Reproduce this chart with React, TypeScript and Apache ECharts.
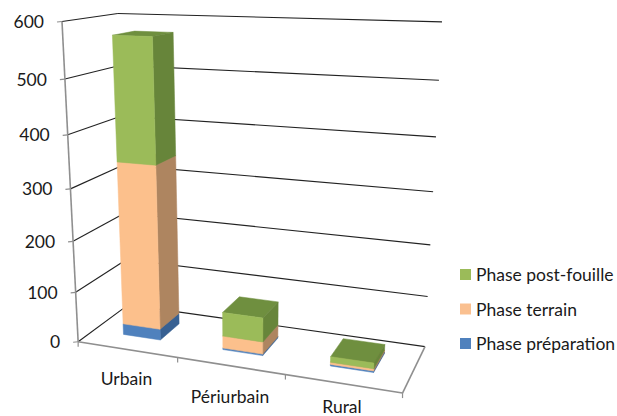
import React, { useEffect, useRef } from "react";
import * as echarts from "echarts";

const categories = ["Urbain", "Périurbain", "Rural"];
const yTicks = [0, 100, 200, 300, 400, 500, 600];
const phasePreparation = [22, 3, 3];
const phaseTerrain = [320, 24, 4];
const phasePostFouille = [231, 47, 11];

const FONT = "Lato, 'Noto Sans', sans-serif";
const TEXT = "#1a1a1a";
const FONT_SIZE = 17.5;

// Reference points of the box: [u, height (0..1), depth, screen x, screen y]
const anchors = [
  [0, 0, 0, 78, 342],
  [1 / 3, 0, 0, 177, 358],
  [2 / 3, 0, 0, 285, 377],
  [1, 0, 0, 402, 392],
  [0, 0, 1, 129, 305],
  [1, 0, 1, 425, 346],
  [0, 1, 0, 61.5, 21.7],
  [0, 1, 1, 116, 14],
  [1, 1, 1, 441, 22],
  [0, 5 / 6, 0, 66, 79],
  [0, 4 / 6, 0, 68.5, 134],
  [0, 3 / 6, 0, 71, 188],
  [0, 2 / 6, 0, 73, 241],
  [0, 1 / 6, 0, 75.5, 292],
  [1, 5 / 6, 1, 440, 81],
  [1, 4 / 6, 1, 437, 137],
  [1, 3 / 6, 1, 434, 191],
  [1, 2 / 6, 1, 430, 245],
  [1, 1 / 6, 1, 427, 296],
];

// Least-squares fit of the 3x4 perspective camera through the anchors.
function fitCamera(points: number[][]): number[] {
  const n = 11;
  const a = Array.from({ length: n }, () => new Array(n + 1).fill(0));
  const add = (row: number[], rhs: number) => {
    for (let i = 0; i < n; i++) {
      for (let j = 0; j < n; j++) a[i][j] += row[i] * row[j];
      a[i][n] += row[i] * rhs;
    }
  };
  for (const [X, Y, Z, x, y] of points) {
    add([X, Y, Z, 1, 0, 0, 0, 0, -x * X, -x * Y, -x * Z], x);
    add([0, 0, 0, 0, X, Y, Z, 1, -y * X, -y * Y, -y * Z], y);
  }
  for (let c = 0; c < n; c++) {
    let pivot = c;
    for (let r = c + 1; r < n; r++) if (Math.abs(a[r][c]) > Math.abs(a[pivot][c])) pivot = r;
    [a[c], a[pivot]] = [a[pivot], a[c]];
    for (let r = 0; r < n; r++) {
      if (r === c) continue;
      const f = a[r][c] / a[c][c];
      for (let k = c; k <= n; k++) a[r][k] -= f * a[c][k];
    }
  }
  return a.map((row, i) => row[n] / row[i]);
}

const cam = fitCamera(anchors);
function project(u: number, h: number, d: number): number[] {
  const s = cam[8] * u + cam[9] * h + cam[10] * d + 1;
  return [
    (cam[0] * u + cam[1] * h + cam[2] * d + cam[3]) / s,
    (cam[4] * u + cam[5] * h + cam[6] * d + cam[7]) / s,
  ];
}

const BAR_HALF = 0.19;
const BAR_NEAR = 0.3;
const BAR_FAR = 0.72;

function rowsFrom(values: number[], below: number[][]) {
  return values.map((v, i) => {
    const base = below.reduce((sum, s) => sum + s[i], 0);
    return [i, base, base + v];
  });
}

const shade = (pts: number[][], fill: string) => ({
  type: "polygon",
  shape: { points: pts },
  style: { fill, stroke: fill, lineWidth: 0.5 },
});

function barRenderer(front: string, side: string, top: string) {
  return (params: any, api: any) => {
    const sys = params.coordSys;
    const band = api.size([1, 0])[0];
    const cx = api.coord([api.value(0), 0])[0];
    const u0 = (cx - band * BAR_HALF - sys.x) / sys.width;
    const u1 = (cx + band * BAR_HALF - sys.x) / sys.width;
    const toH = (val: number) => (sys.y + sys.height - api.coord([0, val])[1]) / sys.height;
    const h0 = toH(api.value(1));
    const h1 = toH(api.value(2));
    const n = BAR_NEAR;
    const f = BAR_FAR;
    return {
      type: "group",
      children: [
        shade([project(u0, h1, n), project(u1, h1, n), project(u1, h1, f), project(u0, h1, f)], top),
        shade([project(u1, h0, n), project(u1, h0, f), project(u1, h1, f), project(u1, h1, n)], side),
        shade([project(u0, h0, n), project(u1, h0, n), project(u1, h1, n), project(u0, h1, n)], front),
      ],
    };
  };
}

const seg = (a: number[], b: number[], stroke: string, lineWidth: number) => ({
  type: "line",
  shape: { x1: a[0], y1: a[1], x2: b[0], y2: b[1] },
  style: { stroke, lineWidth },
});

// Walls, floor edges, ticks and axis labels of the box.
function frameRenderer(params: any, api: any) {
  const sys = params.coordSys;
  const toH = (val: number) => (sys.y + sys.height - api.coord([0, val])[1]) / sys.height;
  const children: any[] = [];
  const dark = "#222222";
  const grey = "#8f8f8f";

  yTicks.forEach((t) => {
    const h = toH(t);
    const a = project(0, h, 0);
    const b = project(0, h, 1);
    const c = project(1, h, 1);
    children.push(seg(a, b, dark, 1.1), seg(b, c, dark, 1.1));
    children.push(seg([a[0] - 5, a[1] + 0.5], a, grey, 1.2));
    children.push({
      type: "text",
      style: {
        text: String(t),
        x: a[0] - 18,
        y: a[1],
        align: "right",
        verticalAlign: "middle",
        fontSize: FONT_SIZE,
        fontFamily: FONT,
        fill: TEXT,
      },
    });
  });

  children.push(seg(project(0, 0, 0), project(0, 1, 0), grey, 1.6));
  children.push(seg(project(0, 0, 0), project(1, 0, 0), grey, 1.6));
  children.push(seg(project(1, 0, 0), project(1, 0, 1), grey, 1.6));

  [0, 1 / 3, 2 / 3, 1].forEach((u) => {
    const p = project(u, 0, 0);
    children.push(seg(p, [p[0], p[1] + 5], grey, 1.2));
  });

  const labelSpot = [
    [126.5, 378],
    [230, 396],
    [342, 406],
  ];
  categories.forEach((c, i) => {
    children.push({
      type: "text",
      style: {
        text: c,
        x: labelSpot[i][0],
        y: labelSpot[i][1],
        align: "center",
        verticalAlign: "middle",
        fontSize: FONT_SIZE,
        fontFamily: FONT,
        fill: TEXT,
      },
    });
  });
  return { type: "group", children };
}

export default function App() {
  const ref = useRef<HTMLDivElement>(null);
  useEffect(() => {
    document.body.style.margin = "0";
    const chart = echarts.init(ref.current!, undefined, { renderer: "svg" });
    chart.setOption({
      animation: false,
      backgroundColor: "#ffffff",
      grid: { left: 0, top: 0, right: 0, bottom: 0 },
      xAxis: { type: "category", data: categories, show: false },
      yAxis: { type: "value", min: 0, max: 600, interval: 100, show: false },
      legend: {
        orient: "vertical",
        left: 455,
        top: 260,
        icon: "rect",
        itemWidth: 11,
        itemHeight: 11,
        itemGap: 15.5,
        selectedMode: false,
        data: ["Phase post-fouille", "Phase terrain", "Phase préparation"],
        textStyle: { fontFamily: FONT, fontSize: FONT_SIZE, color: TEXT, lineHeight: 19 },
      },
      series: [
        {
          type: "custom",
          silent: true,
          z: 1,
          data: [[0, 0, 0]],
          renderItem: frameRenderer,
        },
        {
          type: "custom",
          name: "Phase préparation",
          z: 2,
          itemStyle: { color: "#4F81BD" },
          encode: { x: 0, y: [1, 2] },
          data: rowsFrom(phasePreparation, []),
          renderItem: barRenderer("#4F81BD", "#376092", "#3F6797"),
        },
        {
          type: "custom",
          name: "Phase terrain",
          z: 3,
          itemStyle: { color: "#FAC090" },
          encode: { x: 0, y: [1, 2] },
          data: rowsFrom(phaseTerrain, [phasePreparation]),
          renderItem: barRenderer("#FCC08C", "#AE8560", "#C99A73"),
        },
        {
          type: "custom",
          name: "Phase post-fouille",
          z: 4,
          itemStyle: { color: "#9BBB59" },
          encode: { x: 0, y: [1, 2] },
          data: rowsFrom(phasePostFouille, [phasePreparation, phaseTerrain]),
          renderItem: barRenderer("#9BBB59", "#67853A", "#6F8F3F"),
        },
      ],
    });
    return () => chart.dispose();
  }, []);
  return <div ref={ref} style={{ width: 617, height: 416 }} />;
}
